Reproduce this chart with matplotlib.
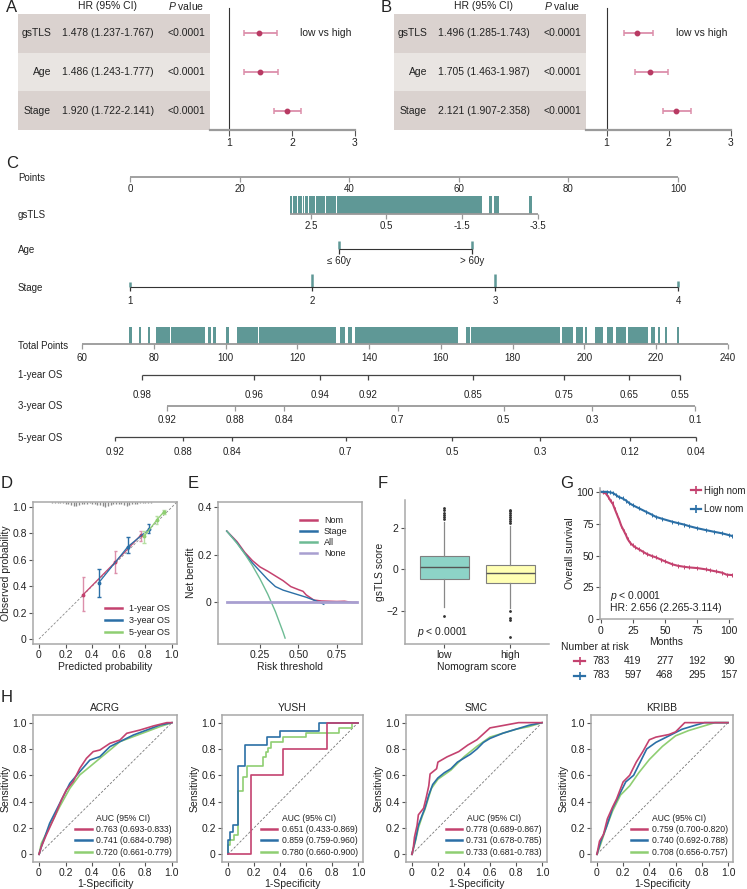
import numpy as np
import matplotlib
matplotlib.use("Agg")
import matplotlib.pyplot as plt
from matplotlib.lines import Line2D
from matplotlib.transforms import blended_transform_factory

plt.rcParams["font.family"] = ["Liberation Sans", "DejaVu Sans"]
plt.rcParams["font.size"] = 7.5
plt.rcParams["mathtext.fontset"] = "custom"
plt.rcParams["mathtext.rm"] = "Liberation Sans"
plt.rcParams["mathtext.it"] = "Liberation Sans:italic"
plt.rcParams["text.color"] = "#222222"
plt.rcParams["axes.labelcolor"] = "#222222"
plt.rcParams["xtick.color"] = "#555555"
plt.rcParams["ytick.color"] = "#555555"
plt.rcParams["xtick.labelcolor"] = "#222222"
plt.rcParams["ytick.labelcolor"] = "#222222"

PINK = "#c4426f"
PINK_L = "#dc8fab"
BLUE = "#2b6fa6"
BLUE_L = "#6fa4cc"
GREEN = "#8fce72"
GREEN_L = "#b5dfa1"
TEAL = "#5f9896"
SPINE = "#a8a8a8"
ROW_DARK = "#dad2cf"
ROW_LIGHT = "#e9e5e2"

# ---------------- A / B : multivariate cox
forest_vars = ["gsTLS", "Age", "Stage"]
hr_a = [1.478, 1.486, 1.920]
lo_a = [1.237, 1.243, 1.722]
hi_a = [1.767, 1.777, 2.141]
hr_b = [1.496, 1.705, 2.121]
lo_b = [1.285, 1.463, 1.907]
hi_b = [1.743, 1.987, 2.358]
p_vals = ["<0.0001", "<0.0001", "<0.0001"]

# ---------------- C : nomogram (positions on the 0-100 points scale)
points_ticks = [0, 20, 40, 60, 80, 100]
gstls_vals = ["2.5", "0.5", "-1.5", "-3.5"]
gstls_pts = [33.0, 46.8, 60.6, 74.5]
gstls_start = 29.2
gstls_rug = [(29.2, 29.6), (29.8, 30.5), (30.7, 31.3), (31.5, 31.8), (32.0, 32.5),
             (32.7, 33.7), (33.9, 35.5), (35.7, 37.5), (37.7, 64.2),
             (65.5, 66.0), (66.4, 66.9), (67.0, 67.4), (72.8, 73.3)]
age_labels = ["\u2264 60y", "> 60y"]
age_pts = [38.1, 62.4]
stage_labels = ["1", "2", "3", "4"]
stage_pts = [0, 33.2, 66.6, 100]
stage_bar = [5, 13, 13, 6]
total_ticks = [60, 80, 100, 120, 140, 160, 180, 200, 220, 240]
total_rug = [(73.1, 73.9), (75.9, 76.4), (78.4, 78.9), (80.6, 84.5), (84.8, 94.3),
             (95.1, 95.9), (96.5, 97.3), (100.1, 100.9), (103.2, 109.0), (109.3, 130.8),
             (131.9, 133.3), (134.1, 135.2), (136.0, 164.7), (167.0, 168.1),
             (168.4, 193.1), (193.7, 196.8), (197.6, 199.6), (200.1, 200.7),
             (202.9, 205.1), (206.2, 207.9), (208.7, 211.5), (212.1, 217.7),
             (218.5, 219.6), (220.4, 221.0), (222.4, 222.9), (225.7, 226.3)]
os1_labels = ["0.98", "0.96", "0.94", "0.92", "0.85", "0.75", "0.65", "0.55"]
os1_total = [76.7, 107.9, 126.3, 139.7, 168.9, 194.3, 212.4, 226.6]
os3_labels = ["0.92", "0.88", "0.84", "0.7", "0.5", "0.3", "0.1"]
os3_total = [83.7, 102.6, 116.3, 148.0, 177.5, 202.1, 230.8]
os5_labels = ["0.92", "0.88", "0.84", "0.7", "0.5", "0.3", "0.12", "0.04"]
os5_total = [69.2, 88.1, 101.8, 133.5, 163.1, 187.6, 212.6, 231.0]

# ---------------- D : calibration
hist_h = [0.004, 0.006, 0.005, 0.008, 0.010, 0.012, 0.015, 0.020, 0.028, 0.034, 0.025,
          0.018, 0.015, 0.012, 0.010, 0.012, 0.015, 0.020, 0.026, 0.032, 0.036, 0.030,
          0.024, 0.018, 0.014, 0.012, 0.016, 0.022, 0.028, 0.024, 0.018, 0.014, 0.012,
          0.010, 0.008, 0.006, 0.005, 0.004, 0.003, 0.002, 0.002]
cal1_x = [0.333, 0.574, 0.764]
cal1_y = [0.337, 0.583, 0.785]
cal1_lo = [0.21, 0.50, 0.74]
cal1_hi = [0.47, 0.666, 0.82]
cal3_x = [0.451, 0.669, 0.825]
cal3_y = [0.428, 0.70, 0.83]
cal3_lo = [0.32, 0.65, 0.80]
cal3_hi = [0.53, 0.77, 0.87]
cal5_x = [0.79, 0.885, 0.94]
cal5_y = [0.777, 0.90, 0.965]
cal5_lo = [0.73, 0.87, 0.945]
cal5_hi = [0.82, 0.93, 0.98]

# ---------------- E : decision curve
dca_t = [0.033, 0.10, 0.15, 0.20, 0.25, 0.30, 0.35, 0.40, 0.45, 0.50, 0.53, 0.55,
         0.60, 0.65, 0.70, 0.75, 0.80, 0.85, 0.88]
nb_nom = [0.30, 0.255, 0.21, 0.175, 0.148, 0.13, 0.11, 0.09, 0.065, 0.052, 0.045, 0.03,
          0.008, 0.004, 0.003, 0.002, 0.003, -0.002, -0.002]
stage_t = [0.033, 0.10, 0.15, 0.20, 0.25, 0.30, 0.35, 0.40, 0.45, 0.50, 0.55, 0.60, 0.65, 0.665]
nb_stage = [0.30, 0.25, 0.205, 0.165, 0.13, 0.095, 0.065, 0.05, 0.04, 0.03, 0.02, 0.008,
            -0.005, -0.01]
all_t = [0.033, 0.10, 0.15, 0.20, 0.25, 0.30, 0.35, 0.40, 0.413]
nb_all = [0.30, 0.248, 0.204, 0.154, 0.097, 0.033, -0.041, -0.128, -0.153]
none_t = [0.033, 0.883]
nb_none = [0, 0]

# ---------------- F : boxplot
box_low = dict(med=0.11, q1=-0.485, q3=0.645, whislo=-1.815, whishi=2.31,
               fliers=[2.45, 2.55, 2.65, 2.75, 2.88, 3.0, -2.27])
box_high = dict(med=-0.165, q1=-0.65, q3=0.21, whislo=-1.89, whishi=2.12,
                fliers=[2.25, 2.35, 2.45, 2.55, 2.65, 2.75, 2.82, 2.9, -2.0, -2.35, -2.45, -3.28])
box_groups = ["low", "high"]

# ---------------- G : Kaplan-Meier
km_high_t = [0, 2, 4, 6, 8, 9.3, 11, 13, 14.5, 16, 18, 19.7, 21, 23, 24.8, 27, 30, 33, 36,
             40, 43, 47, 50, 55.9, 60, 65, 68.8, 75, 81.8, 85, 90, 94.7, 98, 102.5]
km_high_s = [100, 99.5, 98.7, 96, 92.5, 90.9, 86.5, 81.5, 77.8, 73.5, 69.5, 66.1, 63, 60,
             58.2, 56.5, 54.8, 53, 51.2, 49.6, 48.6, 46.8, 45.5, 43.1, 42, 41.2, 40.7,
             40.2, 39.2, 38.5, 37.5, 36.5, 35, 34.7]
km_low_t = [0, 5, 7, 9.3, 12, 14, 17.1, 20, 22, 24.8, 30, 35, 40, 42.9, 48, 55.9, 60, 65,
            68.8, 75, 81.8, 88, 94.7, 100, 102.5]
km_low_s = [100, 100, 99.6, 99.2, 97.5, 96, 94.8, 93, 91.3, 89.6, 87, 84.5, 82, 80.4, 78.8,
            76.5, 75.5, 74.3, 73.1, 71.5, 70, 68.7, 67.4, 66, 65.3]
risk_times = [0, 25, 50, 75, 100]
risk_high = [783, 419, 277, 192, 90]
risk_low = [783, 597, 468, 295, 157]

# ---------------- H : ROC curves (fpr, tpr)
roc_titles = ["ACRG", "YUSH", "SMC", "KRIBB"]
acrg_pink = [(0, 0), (0.018, 0.058), (0.055, 0.147), (0.118, 0.286), (0.169, 0.413),
             (0.206, 0.489), (0.257, 0.552), (0.307, 0.653), (0.357, 0.729), (0.408, 0.78),
             (0.458, 0.792), (0.534, 0.843), (0.609, 0.868), (0.66, 0.919), (0.76, 0.944),
             (0.861, 0.975), (0.962, 1.0), (1, 1)]
acrg_blue = [(0, 0), (0.018, 0.058), (0.08, 0.235), (0.156, 0.387), (0.232, 0.539),
             (0.307, 0.628), (0.383, 0.716), (0.458, 0.742), (0.534, 0.818), (0.609, 0.856),
             (0.71, 0.906), (0.811, 0.944), (0.911, 0.982), (1, 1)]
acrg_green = [(0, 0), (0.018, 0.084), (0.08, 0.21), (0.156, 0.362), (0.232, 0.501),
              (0.307, 0.603), (0.383, 0.666), (0.458, 0.729), (0.534, 0.792), (0.609, 0.856),
              (0.71, 0.894), (0.811, 0.932), (0.911, 0.97), (1, 1)]
yush_pink = [(0, 0), (0.18, 0.6), (0.42, 0.8), (0.76, 1.0), (1, 1)]
yush_blue = [(0, 0), (0, 0.11), (0.02, 0.17), (0.04, 0.22), (0.08, 0.67), (0.13, 0.83),
             (0.30, 0.89), (0.40, 0.94), (0.70, 1.0), (1, 1)]
yush_green = [(0, 0), (0, 0.07), (0.02, 0.11), (0.05, 0.15), (0.08, 0.48), (0.12, 0.59),
              (0.15, 0.67), (0.27, 0.74), (0.29, 0.78), (0.31, 0.81), (0.33, 0.85),
              (0.42, 0.89), (0.60, 0.92), (0.85, 0.96), (0.95, 1.0), (1, 1)]
smc_pink = [(0, 0), (0.01, 0.04), (0.02, 0.13), (0.04, 0.22), (0.05, 0.30), (0.09, 0.35),
            (0.11, 0.43), (0.13, 0.52), (0.14, 0.61), (0.19, 0.65), (0.2, 0.70),
            (0.27, 0.74), (0.36, 0.78), (0.43, 0.83), (0.50, 0.87), (0.60, 0.96),
            (0.82, 1.0), (1, 1)]
smc_blue = [(0, 0), (0.03, 0.12), (0.05, 0.22), (0.08, 0.3), (0.1, 0.35), (0.13, 0.45),
            (0.16, 0.53), (0.2, 0.58), (0.25, 0.62), (0.3, 0.65), (0.35, 0.70), (0.4, 0.73),
            (0.45, 0.76), (0.5, 0.8), (0.55, 0.85), (0.6, 0.88), (0.7, 0.92), (0.8, 0.95),
            (0.9, 0.98), (1, 1)]
smc_green = [(0, 0), (0.03, 0.11), (0.05, 0.2), (0.08, 0.29), (0.1, 0.34), (0.15, 0.5),
             (0.2, 0.57), (0.3, 0.64), (0.4, 0.74), (0.5, 0.82), (0.6, 0.89), (0.8, 0.95),
             (0.9, 0.97), (1, 1)]
kribb_pink = [(0, 0), (0.02, 0.1), (0.05, 0.15), (0.08, 0.27), (0.12, 0.36), (0.15, 0.42),
              (0.2, 0.55), (0.25, 0.6), (0.3, 0.7), (0.35, 0.78), (0.4, 0.87), (0.45, 0.89),
              (0.55, 0.91), (0.6, 0.93), (0.67, 1.0), (1, 1)]
kribb_blue = [(0, 0), (0.03, 0.1), (0.07, 0.2), (0.12, 0.35), (0.17, 0.45), (0.22, 0.55),
              (0.28, 0.6), (0.32, 0.68), (0.38, 0.8), (0.45, 0.85), (0.55, 0.9), (0.65, 0.95),
              (0.75, 0.98), (0.82, 1.0), (1, 1)]
kribb_green = [(0, 0), (0.03, 0.08), (0.07, 0.2), (0.12, 0.33), (0.18, 0.45), (0.25, 0.52),
               (0.32, 0.62), (0.4, 0.72), (0.5, 0.82), (0.6, 0.9), (0.7, 0.94), (0.8, 0.97),
               (0.9, 1.0), (1, 1)]
roc_curves = [(acrg_pink, acrg_blue, acrg_green), (yush_pink, yush_blue, yush_green),
              (smc_pink, smc_blue, smc_green), (kribb_pink, kribb_blue, kribb_green)]
roc_steps = [False, True, False, False]
roc_auc = [["0.763 (0.693-0.833)", "0.741 (0.684-0.798)", "0.720 (0.661-0.779)"],
           ["0.651 (0.433-0.869)", "0.859 (0.759-0.960)", "0.780 (0.660-0.900)"],
           ["0.778 (0.689-0.867)", "0.731 (0.678-0.785)", "0.733 (0.681-0.783)"],
           ["0.759 (0.700-0.820)", "0.740 (0.692-0.788)", "0.708 (0.656-0.757)"]]

W, H = 747, 889
fig = plt.figure(figsize=(W / 100, H / 100), dpi=100)


def add_ax(l, t, r, b):
    return fig.add_axes([l / W, 1 - b / H, (r - l) / W, (b - t) / H])


def ftext(x, y, s, **kw):
    kw.setdefault("va", "center")
    return fig.text(x / W, 1 - y / H, s, **kw)


def box_style(ax, sides=("left", "right", "top", "bottom")):
    for k, s in ax.spines.items():
        s.set_visible(k in sides)
        s.set_color(SPINE)
        s.set_linewidth(1.1)
    ax.tick_params(length=3, width=0.8, labelsize=7.5, pad=1.5)


# panel letters
for lab, x, y in [("A", 12, 7), ("B", 386, 7), ("C", 12, 163), ("D", 7, 484),
                  ("E", 193, 484), ("F", 383, 484), ("G", 567, 484), ("H", 7, 697)]:
    ftext(x, y, lab, ha="center", fontsize=12)


# ---------------- A / B
def forest(tab_l, xmin, hr, lo, hi):
    tab = add_ax(tab_l, 14, tab_l + 192, 130)
    tab.set_xlim(0, 192)
    tab.set_ylim(3, 0)
    tab.axis("off")
    for i, v in enumerate(forest_vars):
        tab.axhspan(i, i + 1, color=ROW_LIGHT if i == 1 else ROW_DARK, lw=0)
        tab.text(33, i + 0.5, v, ha="right", va="center")
        tab.text(90, i + 0.5, f"{hr[i]:.3f} ({lo[i]:.3f}-{hi[i]:.3f})", ha="center", va="center")
        tab.text(168, i + 0.5, p_vals[i], ha="center", va="center")
    tab.text(90, -0.2, "HR (95% CI)", ha="center", va="center", clip_on=False)
    tab.text(168, -0.2, "$P$ value", ha="center", va="center", clip_on=False)

    fa = add_ax(tab_l + 192, 14, tab_l + 192 + 145, 130)
    fa.set_xlim(xmin, 3)
    fa.set_ylim(3, 0)
    rows = np.arange(len(hr)) + 0.5
    err = [np.array(hr) - np.array(lo), np.array(hi) - np.array(hr)]
    fa.errorbar(hr, rows, xerr=err, fmt="o", ms=3.2, color="#b83a63", ecolor=PINK_L,
                elinewidth=1.3, capsize=2.5, capthick=1.1)
    fa.plot([1, 1], [-0.15, 3], color="#333333", lw=0.8, clip_on=False)
    fa.text(2.12, 0.5, "low vs high", ha="left", va="center")
    for k, s in fa.spines.items():
        s.set_visible(k == "bottom")
    fa.spines["bottom"].set_color("#9a9a9a")
    fa.spines["bottom"].set_linewidth(1.6)
    fa.set_yticks([])
    fa.set_xticks([1, 2, 3])
    fa.tick_params(axis="x", length=4, width=0.8, labelsize=7.5, pad=1.5)


forest(18, 0.70, hr_a, lo_a, hi_a)
forest(394, 0.67, hr_b, lo_b, hi_b)

# ---------------- C nomogram
PX0, PXS = 130, 5.48
nom = add_ax(0, 160, W, 460)
nom.set_xlim(-PX0 / PXS, (W - PX0) / PXS)
nom.set_ylim(460, 160)
nom.axis("off")
TOT_A, TOT_B = -8.76, 109.1


def tot2pts(t):
    return TOT_A + (np.asarray(t, dtype=float) - 60) * (TOT_B - TOT_A) / 180


def nom_axis(y, pos, labels, x0=None, x1=None, color="#444444", lw=0.9, dy=12):
    a = min(pos) if x0 is None else x0
    b = max(pos) if x1 is None else x1
    nom.plot([a, b], [y, y], color=color, lw=lw, solid_capstyle="butt")
    nom.vlines(pos, y, y + 4.5, color=color, lw=0.9)
    for p, l in zip(pos, labels):
        nom.text(p, y + dy, l, ha="center", va="center", fontsize=7)


for name, y in [("Points", 178), ("gsTLS", 215.5), ("Age", 250), ("Stage", 288),
                ("Total Points", 346), ("1-year OS", 375), ("3-year OS", 406.5),
                ("5-year OS", 438)]:
    ftext(18, y, name, ha="left", fontsize=7)

nom_axis(177, points_ticks, [str(v) for v in points_ticks], color="#999999", lw=1.3)
nom.broken_barh([(a, b - a) for a, b in gstls_rug], (196, 18), facecolor=TEAL, lw=0)
nom_axis(214, gstls_pts, gstls_vals, x0=gstls_start, color="#999999", lw=1.3)
nom.vlines(age_pts, 240.5, 249.3, color=TEAL, lw=1.8)
nom_axis(249.3, age_pts, age_labels, color="#333333", lw=0.8, dy=11.5)
for p, h in zip(stage_pts, stage_bar):
    nom.vlines(p, 286.7 - h, 286.7, color=TEAL, lw=1.8)
nom_axis(286.7, stage_pts, stage_labels, color="#333333", lw=0.8, dy=14)
tr = tot2pts(np.array(total_rug))
nom.broken_barh([(a, b - a) for a, b in tr], (326.7, 17.6), facecolor=TEAL, lw=0)
nom_axis(344.3, tot2pts(total_ticks), [str(v) for v in total_ticks], color="#999999", lw=1.3, dy=14)
nom_axis(375, tot2pts(os1_total), os1_labels, color="#444444", lw=0.9, dy=20)
nom_axis(406, tot2pts(os3_total), os3_labels, color="#999999", lw=1.3, dy=13.5)
nom_axis(436.5, tot2pts(os5_total), os5_labels, color="#444444", lw=0.9, dy=15)

# ---------------- D calibration
axD = add_ax(33, 502, 177, 644)
axD.set_xlim(-0.045, 1.038)
axD.set_ylim(-0.038, 1.038)
box_style(axD)
axD.plot([0, 1.038], [0, 1.038], ls=(0, (3, 2)), color="#888888", lw=0.6)
hist_x = np.linspace(0.10, 0.90, len(hist_h))
axD.vlines(hist_x, 1.038 - np.array(hist_h), 1.038, color="#8a8a8a", lw=1.0)
for xs, ys, lo, hi, c, cl, lab in [
        (cal1_x, cal1_y, cal1_lo, cal1_hi, PINK, PINK_L, "1-year OS"),
        (cal3_x, cal3_y, cal3_lo, cal3_hi, BLUE, BLUE_L, "3-year OS"),
        (cal5_x, cal5_y, cal5_lo, cal5_hi, GREEN, GREEN_L, "5-year OS")]:
    axD.vlines(xs, lo, hi, color=cl if c != BLUE else c, lw=1.0)
    axD.hlines(lo + hi, np.array(xs + xs) - 0.012, np.array(xs + xs) + 0.012,
               color=cl if c != BLUE else c, lw=1.0)
    axD.plot(xs, ys, color=c, lw=0.9, marker="o", ms=1.8, label=lab)
axD.set_xticks([0, 0.2, 0.4, 0.6, 0.8, 1.0])
axD.set_xticklabels(["0", "0.2", "0.4", "0.6", "0.8", "1.0"])
axD.set_yticks([0, 0.2, 0.4, 0.6, 0.8, 1.0])
axD.set_yticklabels(["0", "0.2", "0.4", "0.6", "0.8", "1.0"])
axD.set_xlabel("Predicted probability", fontsize=7.5, labelpad=1)
axD.set_ylabel("Observed probability", fontsize=7.5, labelpad=1)
lg = axD.legend(loc="lower right", frameon=False, fontsize=6.5, handlelength=1.8,
                labelspacing=0.3, borderaxespad=0.4)
for h in lg.legend_handles:
    h.set_marker("")
    h.set_linewidth(1.8)

# ---------------- E decision curve
axE = add_ax(218, 502, 362, 644)
axE.set_xlim(-0.024, 0.914)
axE.set_ylim(-0.178, 0.423)
box_style(axE)
axE.plot(dca_t, nb_nom, color=PINK, lw=1.1, label="Nom")
axE.plot(stage_t, nb_stage, color=BLUE, lw=1.0, label="Stage")
axE.plot(all_t, nb_all, color="#6dbb94", lw=1.0, label="All")
axE.plot(none_t, nb_none, color="#a89fd0", lw=2.0, label="None")
axE.set_xticks([0.25, 0.50, 0.75])
axE.set_xticklabels(["0.25", "0.50", "0.75"])
axE.set_yticks([0, 0.2, 0.4])
axE.set_yticklabels(["0", "0.2", "0.4"])
axE.set_xlabel("Risk threshold", fontsize=7.5, labelpad=1)
axE.set_ylabel("Net benefit", fontsize=7.5, labelpad=1)
lg = axE.legend(loc="upper right", frameon=False, fontsize=6.5, handlelength=1.8,
                labelspacing=0.2, borderaxespad=1.2)
for h in lg.legend_handles:
    h.set_linewidth(1.8)

# ---------------- F boxplot
axF = add_ax(405, 500, 549, 644)
axF.set_xlim(-0.6, 1.59)
axF.set_ylim(-3.62, 3.37)
box_style(axF, sides=("left", "bottom"))
bp = axF.bxp([box_low, box_high], positions=[0, 1], widths=0.75, patch_artist=True,
             flierprops=dict(marker="o", ms=1.0, mfc="#333333", mec="#333333"),
             medianprops=dict(color="#555555", lw=1.0),
             whiskerprops=dict(color="#888888", lw=0.9),
             capprops=dict(lw=0), boxprops=dict(edgecolor="#7f7f7f", lw=0.8))
for patch, c in zip(bp["boxes"], ["#8dd3c7", "#ffffb3"]):
    patch.set_facecolor(c)
axF.set_xticks([0, 1])
axF.set_xticklabels(box_groups)
axF.set_yticks([-2, 0, 2])
axF.set_xlabel("Nomogram score", fontsize=7.5, labelpad=1)
axF.set_ylabel("gsTLS score", fontsize=7.5, labelpad=1)
axF.text(-0.42, -3.05, "$p$ < 0.0001", ha="left", va="center", fontsize=7.5)

# ---------------- G Kaplan-Meier
axG = add_ax(600, 488, 733, 619.3)
axG.set_xlim(-0.5, 103)
axG.set_ylim(0, 103)
box_style(axG, sides=("left", "bottom"))
axG.plot(km_high_t, km_high_s, color=PINK, lw=1.5)
axG.plot(km_high_t[1:], km_high_s[1:], ls="", marker="|", ms=2.5, color=PINK, mew=0.7)
axG.plot(km_low_t, km_low_s, color=BLUE, lw=1.5)
axG.plot(km_low_t[1:], km_low_s[1:], ls="", marker="|", ms=2.5, color=BLUE, mew=0.7)
axG.set_xticks(risk_times)
axG.set_yticks([0, 25, 50, 75, 100])
axG.set_xlabel("Months", fontsize=7.5, labelpad=1)
axG.set_ylabel("Overall survival", fontsize=7.5, labelpad=1)
axG.text(7, 18, "$p$ < 0.0001", ha="left", va="center", fontsize=7.5)
axG.text(7, 8.5, "HR: 2.656 (2.265-3.114)", ha="left", va="center", fontsize=7.5)
handles = [Line2D([0], [0], color=PINK, lw=1.6, marker="+", ms=6, mew=1.2),
           Line2D([0], [0], color=BLUE, lw=1.6, marker="+", ms=6, mew=1.2)]
fig.legend(handles, ["High nom", "Low nom"], loc="upper left",
           bbox_to_anchor=(686 / W, 1 - 481 / H), frameon=False, fontsize=7,
           handlelength=1.0, handletextpad=0.4, labelspacing=0.85, borderpad=0)
ftext(561, 647, "Number at risk", ha="left", fontsize=7.5)
btr = blended_transform_factory(axG.transData, fig.transFigure)
for row, yy, c in [(risk_high, 661, PINK), (risk_low, 675.5, BLUE)]:
    for t, n in zip(risk_times, row):
        axG.text(t, 1 - yy / H, str(n), transform=btr, ha="center", va="center", fontsize=7.5)
    fig.add_artist(Line2D([574 / W, 585 / W], [1 - yy / H] * 2, color=c, lw=1.6))
    fig.add_artist(Line2D([579.5 / W], [1 - yy / H], color=c, marker="+", ms=6, mew=1.2))

# ---------------- H ROC
roc_lr = [(33, 177), (222, 363), (406, 547), (591, 733)]
for k, ((l, r), title) in enumerate(zip(roc_lr, roc_titles)):
    ax = add_ax(l, 715, r, 861.7)
    ax.set_xlim(-0.045, 1.038)
    ax.set_ylim(-0.056, 1.058)
    box_style(ax)
    ax.plot([0, 1], [0, 1], ls=(0, (3, 2)), color="#777777", lw=0.6)
    for curve, c, lab in zip(roc_curves[k][::-1], [GREEN, BLUE, PINK], roc_auc[k][::-1]):
        fx, ty = zip(*curve)
        ax.plot(fx, ty, color=c, lw=1.2, label=lab,
                drawstyle="steps-post" if roc_steps[k] else "default")
    ax.set_title(title, fontsize=7.5, pad=3)
    ax.set_xticks([0, 0.2, 0.4, 0.6, 0.8, 1.0])
    ax.set_xticklabels(["0", "0.2", "0.4", "0.6", "0.8", "1.0"])
    ax.set_yticks([0, 0.2, 0.4, 0.6, 0.8, 1.0])
    ax.set_yticklabels(["0", "0.2", "0.4", "0.6", "0.8", "1.0"])
    ax.set_xlabel("1-Specificity", fontsize=7.5, labelpad=1)
    ax.set_ylabel("Sensitivity", fontsize=7.5, labelpad=1)
    hs, ls = ax.get_legend_handles_labels()
    lg = ax.legend(hs[::-1], ls[::-1], title="AUC (95% CI)", loc="lower right",
                   frameon=False, fontsize=6.2, title_fontsize=6.2, handlelength=1.9,
                   handletextpad=0.5, labelspacing=0.25, borderaxespad=0.2)
    for h in lg.legend_handles:
        h.set_linewidth(1.8)

fig.savefig("out.png", dpi=100)
